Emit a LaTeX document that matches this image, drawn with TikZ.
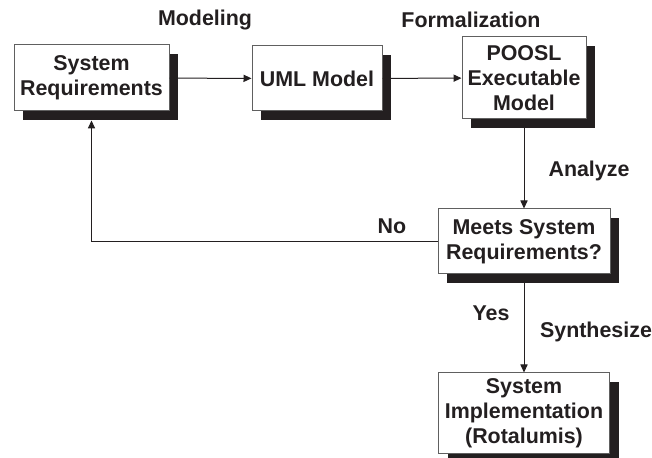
\documentclass[tikz,border=0pt]{standalone}
\usepackage{fontspec}
\setmainfont{Liberation Sans}
\usetikzlibrary{arrows.meta,shadows}

\definecolor{inkgray}{HTML}{231F20}
\definecolor{edgegray}{HTML}{606060}

\begin{document}
\begin{tikzpicture}[x=0.5pt,y=-0.5pt,
  stage/.style = {draw=edgegray, line width=0.5pt, fill=white, align=center,
    inner sep=0pt, text=inkgray,
    font=\fontsize{10.7}{12.5}\selectfont\bfseries,
    drop shadow={shadow xshift=4.5pt, shadow yshift=-4.5pt, fill=inkgray, opacity=1}},
  tag/.style = {text=inkgray, font=\fontsize{10.7}{12.5}\selectfont\bfseries},
  flow/.style = {draw=inkgray, line width=0.5pt, -{Triangle[length=4pt,width=3.6pt]}}]
  \useasboundingbox (0,0) rectangle (652,458);

  \node[stage, minimum width=77.5pt, minimum height=33pt] (sysreq) at (91.5,78) {System\\Requirements};
  \node[stage, minimum width=65pt, minimum height=32.5pt] (uml) at (317,78.5) {UML Model};
  \node[stage, minimum width=62pt, minimum height=41pt] (poosl) at (524,78) {POOSL\\Executable\\Model};
  \node[stage, minimum width=86pt, minimum height=32.5pt] (meets) at (524,241.5) {Meets System\\Requirements?};
  \node[stage, minimum width=85.5pt, minimum height=40pt] (impl) at (524,413) {System\\Implementation\\(Rotalumis)};

  \draw[flow] (sysreq) -- (uml);
  \draw[flow] (uml) -- (poosl);
  \draw[flow] (poosl) -- (meets);
  \draw[flow] (meets) -- (impl);
  \draw[flow] (meets.west) -| ([yshift=-4.5pt]sysreq.south);

  \node[tag] (modeling) at (205,20) {Modeling};
  \node[tag] (formal) at (471,20) {Formalization};
  \node[tag] (analyze) at (589,171) {Analyze};
  \node[tag] (no) at (392,226) {No};
  \node[tag] (yes) at (491,313) {Yes};
  \node[tag] (synth) at (596,332) {Synthesize};
\end{tikzpicture}
\end{document}
